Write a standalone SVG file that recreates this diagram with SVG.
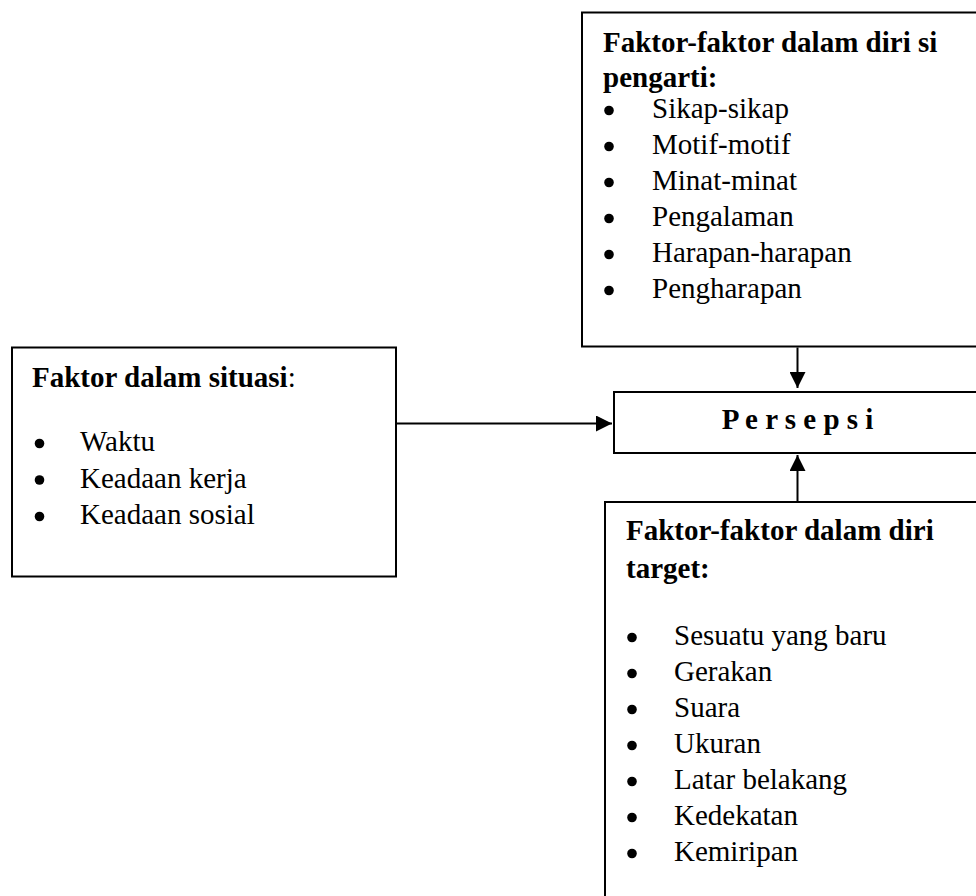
<svg xmlns="http://www.w3.org/2000/svg" width="976" height="896" viewBox="0 0 976 896">
  <style>
    .box { fill: #ffffff; stroke: #000000; stroke-width: 2; }
    .t { font-family: "Liberation Serif", "Times New Roman", serif; font-size: 29px; fill: #000000; }
    .b { font-weight: bold; }
    .dot { fill: #000000; }
    .conn { stroke: #000000; stroke-width: 2; fill: none; }
  </style>
  <defs>
    <marker id="arrow" viewBox="0 0 16 16" refX="16" refY="8" markerWidth="16" markerHeight="16" markerUnits="userSpaceOnUse" orient="auto">
      <path d="M0,0 L16,8 L0,16 z" fill="#000000"/>
    </marker>
  </defs>
  <rect x="0" y="0" width="976" height="896" fill="#ffffff"/>

  <g id="node-pengarti">
    <rect class="box" x="582" y="12.5" width="420" height="334"/>
    <text class="t b" x="603" y="52">Faktor-faktor dalam diri si</text>
    <text class="t b" x="603" y="87">pengarti:</text>
    <circle class="dot" cx="609" cy="110.5" r="4.8"/>
    <text class="t" x="652" y="118">Sikap-sikap</text>
    <circle class="dot" cx="609" cy="146.5" r="4.8"/>
    <text class="t" x="652" y="154">Motif-motif</text>
    <circle class="dot" cx="609" cy="182.5" r="4.8"/>
    <text class="t" x="652" y="190">Minat-minat</text>
    <circle class="dot" cx="609" cy="218.5" r="4.8"/>
    <text class="t" x="652" y="226">Pengalaman</text>
    <circle class="dot" cx="609" cy="254.5" r="4.8"/>
    <text class="t" x="652" y="262">Harapan-harapan</text>
    <circle class="dot" cx="609" cy="290.5" r="4.8"/>
    <text class="t" x="652" y="298">Pengharapan</text>
  </g>

  <g id="node-situasi">
    <rect class="box" x="12" y="347.5" width="384" height="229"/>
    <text class="t" x="32" y="387"><tspan class="b">Faktor dalam situasi</tspan>:</text>
    <circle class="dot" cx="39.5" cy="443.5" r="4.8"/>
    <text class="t" x="80" y="451">Waktu</text>
    <circle class="dot" cx="39.5" cy="480" r="4.8"/>
    <text class="t" x="80" y="487.5">Keadaan kerja</text>
    <circle class="dot" cx="39.5" cy="516.5" r="4.8"/>
    <text class="t" x="80" y="524">Keadaan sosial</text>
  </g>

  <g id="node-persepsi">
    <rect class="box" x="614" y="392" width="380" height="61"/>
    <text class="t b" x="797.5" y="428.5" text-anchor="middle">P e r s e p s i</text>
  </g>

  <g id="node-target">
    <rect class="box" x="605" y="502" width="400" height="420"/>
    <text class="t b" x="626" y="540">Faktor-faktor dalam diri</text>
    <text class="t b" x="626" y="578">target:</text>
    <circle class="dot" cx="632" cy="637.5" r="4.8"/>
    <text class="t" x="674" y="645">Sesuatu yang baru</text>
    <circle class="dot" cx="632" cy="673.5" r="4.8"/>
    <text class="t" x="674" y="681">Gerakan</text>
    <circle class="dot" cx="632" cy="709.5" r="4.8"/>
    <text class="t" x="674" y="717">Suara</text>
    <circle class="dot" cx="632" cy="745.5" r="4.8"/>
    <text class="t" x="674" y="753">Ukuran</text>
    <circle class="dot" cx="632" cy="781.5" r="4.8"/>
    <text class="t" x="674" y="789">Latar belakang</text>
    <circle class="dot" cx="632" cy="817.5" r="4.8"/>
    <text class="t" x="674" y="825">Kedekatan</text>
    <circle class="dot" cx="632" cy="853.5" r="4.8"/>
    <text class="t" x="674" y="861">Kemiripan</text>
  </g>

  <g id="connectors">
    <line class="conn" x1="396" y1="423.5" x2="612" y2="423.5" marker-end="url(#arrow)"/>
    <line class="conn" x1="797.5" y1="347.5" x2="797.5" y2="388" marker-end="url(#arrow)"/>
    <line class="conn" x1="797.5" y1="501" x2="797.5" y2="455" marker-end="url(#arrow)"/>
  </g>
</svg>
